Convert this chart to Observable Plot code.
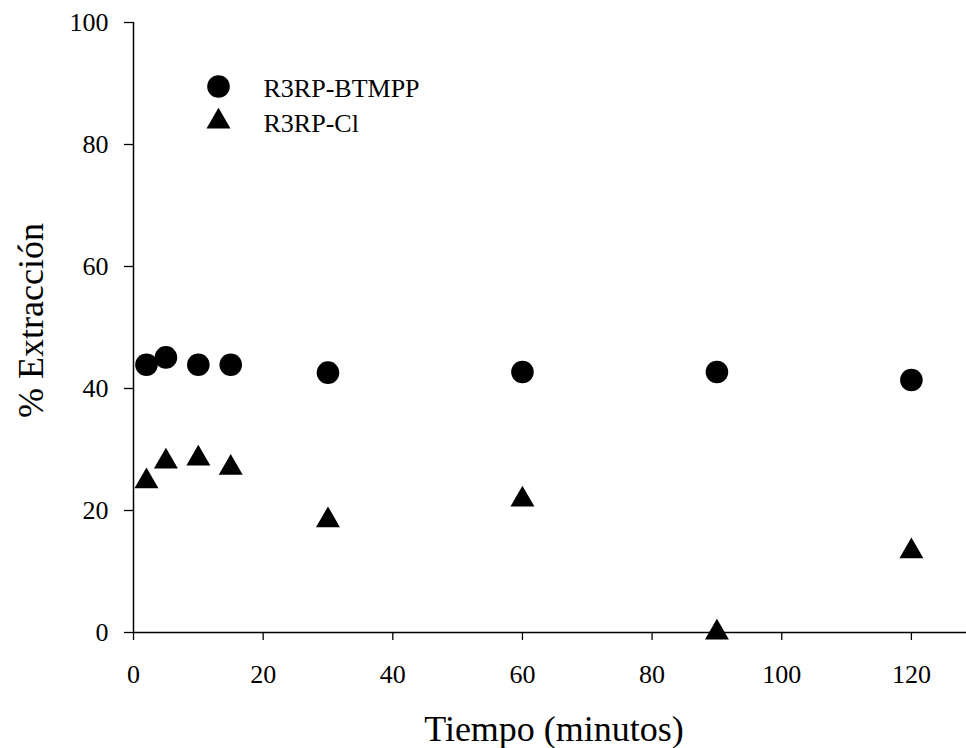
<!DOCTYPE html>
<html>
<head>
<meta charset="utf-8">
<script src="https://cdn.jsdelivr.net/npm/d3@7"></script>
<script src="https://cdn.jsdelivr.net/npm/@observablehq/plot@0.6"></script>
<style>
  html, body { margin: 0; padding: 0; background: white; }
  #chart { width: 966px; height: 748px; }
</style>
</head>
<body>
<div id="chart"></div>
<script>
const times = [2, 5, 10, 15, 30, 60, 90, 120];
const btmpp = [43.9, 45.1, 43.9, 43.9, 42.6, 42.7, 42.7, 41.4];
const cl = [24.8, 28.0, 28.5, 27.0, 18.4, 21.8, 0, 13.3];
const seriesNames = ["R3RP-BTMPP", "R3RP-Cl"];
const seriesSymbols = ["circle", "triangle"];
const xTicks = [0, 20, 40, 60, 80, 100, 120];
const yTicks = [0, 20, 40, 60, 80, 100];
const xTitle = "Tiempo (minutos)";
const yTitle = "% Extracción";

const dataBT = times.map((t, i) => ({t, v: btmpp[i]}));
const dataCl = times.map((t, i) => ({t, v: cl[i]}));
const legend = seriesNames.map((name, i) => ({name, symbol: seriesSymbols[i]}));

const font = "'Liberation Serif', 'Times New Roman', serif";
const sizes = {circle: 11.3, triangle: 8.9};

const legendMarks = legend.flatMap((d, i) => [
  Plot.dot([d], {frameAnchor: "top-left", dx: 85, dy: 64 + i * 35, r: sizes[d.symbol], symbol: "symbol", fill: "black", stroke: "none"}),
  Plot.text([d], {frameAnchor: "top-left", dx: 130, dy: 65.7 + i * 35, text: "name", textAnchor: "start", lineAnchor: "middle", fontSize: 26, fill: "black"})
]);

const chart = Plot.plot({
  width: 966,
  height: 748,
  marginLeft: 133,
  marginRight: 0,
  marginTop: 22,
  marginBottom: 116,
  style: {fontFamily: font, fontSize: "26px", color: "black", background: "white", overflow: "visible"},
  x: {domain: [0, 128.5]},
  y: {domain: [0, 100]},
  marks: [
    Plot.axisX(xTicks, {tickSize: 8, tickPadding: 24, fontSize: 26, strokeWidth: 1.3, label: null}),
    Plot.axisY(yTicks, {tickSize: 9, tickPadding: 16, fontSize: 26, strokeWidth: 1.3, label: null}),
    Plot.ruleY([0], {stroke: "black", strokeWidth: 1.5}),
    Plot.ruleX([0], {y1: 0, y2: 100, stroke: "black", strokeWidth: 1.5}),
    Plot.dot(dataBT, {x: "t", y: "v", r: sizes.circle, symbol: "circle", fill: "black", stroke: "none"}),
    Plot.dot(dataCl, {x: "t", y: "v", r: sizes.triangle, symbol: "triangle", fill: "black", stroke: "none"}),
    ...legendMarks,
    Plot.text([xTitle], {frameAnchor: "bottom", dy: 96.5, dx: 4, text: (d) => d, textAnchor: "middle", lineAnchor: "middle", fontSize: 36, fill: "black"}),
    Plot.text([yTitle], {frameAnchor: "left", dx: -102.5, dy: -7, rotate: -90, text: (d) => d, textAnchor: "middle", lineAnchor: "middle", fontSize: 36, fill: "black"})
  ]
});
document.getElementById("chart").appendChild(chart);
</script>
</body>
</html>
